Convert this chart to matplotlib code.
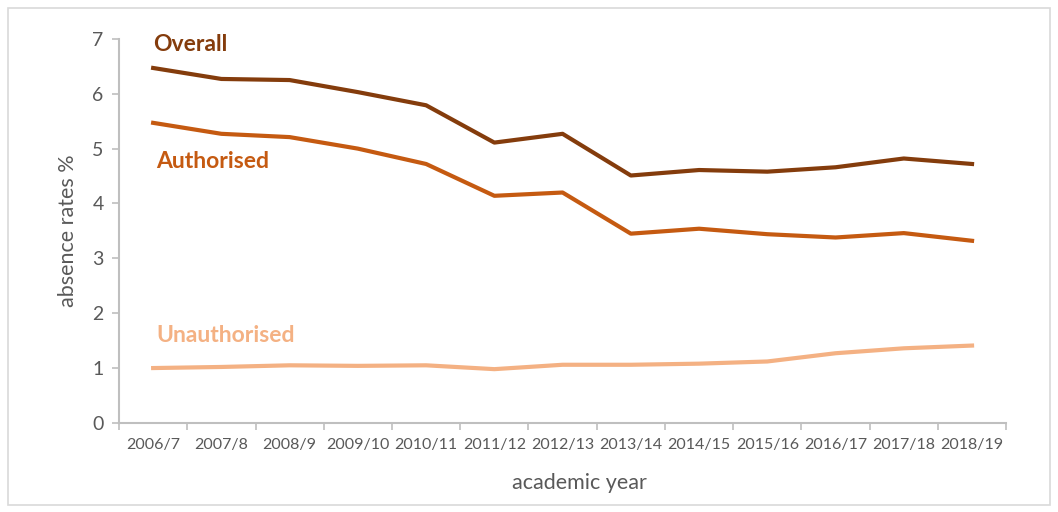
import matplotlib.pyplot as plt
from matplotlib.patches import Rectangle

years = ["2006/7", "2007/8", "2008/9", "2009/10", "2010/11", "2011/12", "2012/13",
         "2013/14", "2014/15", "2015/16", "2016/17", "2017/18", "2018/19"]
overall = [6.47, 6.27, 6.25, 6.03, 5.79, 5.11, 5.27, 4.51, 4.61, 4.58, 4.66, 4.82, 4.72]
authorised = [5.47, 5.27, 5.21, 5.0, 4.72, 4.14, 4.2, 3.45, 3.54, 3.44, 3.38, 3.46, 3.32]
unauthorised = [1.0, 1.02, 1.05, 1.04, 1.05, 0.98, 1.06, 1.06, 1.08, 1.12, 1.27, 1.36, 1.41]

c_overall = "#843C0C"
c_auth = "#C55A11"
c_unauth = "#F4B183"
grey = "#595959"
axis_grey = "#BFBFBF"


def main():
    plt.rcParams["font.family"] = ["Lato", "DejaVu Sans"]
    fig = plt.figure(figsize=(10.58, 5.12), dpi=100)
    ax = fig.add_axes([0.1125, 0.174, 0.8385, 0.75])

    x = list(range(len(years)))
    ax.plot(x, overall, color=c_overall, lw=3)
    ax.plot(x, authorised, color=c_auth, lw=3)
    ax.plot(x, unauthorised, color=c_unauth, lw=3)

    ax.text(0, 6.89, "Overall", color=c_overall, fontsize=16.5, fontweight="bold", va="center")
    ax.text(0.05, 4.76, "Authorised", color=c_auth, fontsize=16.5, fontweight="bold", va="center")
    ax.text(0.05, 1.59, "Unauthorised", color=c_unauth, fontsize=16.5, fontweight="bold", va="center")

    ax.set_xlim(-0.5, len(years) - 0.5)
    ax.set_ylim(0, 7)
    ax.set_yticks(range(0, 8))
    ax.set_xticks(x)
    ax.set_xticklabels(years)
    ax.set_xticks([i - 0.5 for i in range(len(years) + 1)], minor=True)
    ax.tick_params(axis="x", which="major", length=0, labelsize=11.5, colors=grey, pad=11)
    ax.tick_params(axis="x", which="minor", length=5, color=axis_grey, width=1.2)
    ax.tick_params(axis="y", length=5, color=axis_grey, width=1.2, labelsize=14,
                   labelcolor=grey, pad=6)

    for s in ["top", "right"]:
        ax.spines[s].set_visible(False)
    for s in ["left", "bottom"]:
        ax.spines[s].set_color(axis_grey)
        ax.spines[s].set_linewidth(1.5)

    ax.set_ylabel("absence rates %", fontsize=15.5, color=grey, labelpad=10)
    ax.set_xlabel("academic year", fontsize=15.5, color=grey)
    ax.xaxis.set_label_coords(0.519, -0.13)

    fig.patches.append(Rectangle((8 / 1058, 7 / 512), 1042 / 1058, 497 / 512,
                                 transform=fig.transFigure, fill=False,
                                 edgecolor="#D9D9D9", lw=1.2))

    fig.savefig("out.png", dpi=100)
    return 0


if __name__ == "__main__":
    main()
